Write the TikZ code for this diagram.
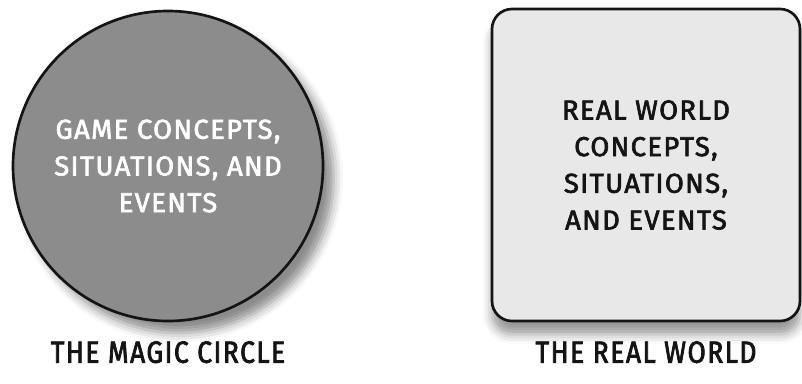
\documentclass[tikz,border=0pt]{standalone}
\usepackage{fontspec}
\setsansfont{Fira Sans}[FakeBold=2.4]
\newfontfamily\narrowsans{Fira Sans}[FakeStretch=0.86, FakeBold=2.4]
\usetikzlibrary{positioning,shadows.blur}
\usepackage{xcolor}
\definecolor{circlegray}{RGB}{140,140,140}
\definecolor{boxgray}{RGB}{232,232,232}
\definecolor{lineblack}{RGB}{20,20,20}

\begin{document}
\begin{tikzpicture}[
  x=0.75pt, y=-0.75pt,
  node distance=14pt and 0pt,
  world/.style={draw=lineblack, line width=2pt, align=center, inner sep=0pt,
    font=\sffamily\addfontfeature{LetterSpace=5}\fontsize{20.5}{27.5}\selectfont},
  caption/.style={font=\narrowsans\addfontfeature{LetterSpace=5}\fontsize{23}{26}\selectfont, text=lineblack, inner sep=0pt}
]
\useasboundingbox (0,0) rectangle (802,383);
\node[world, circle, fill=circlegray, text=white, minimum size=232.5pt,
  blur shadow={shadow xshift=8pt, shadow yshift=-9pt, shadow blur radius=7pt, shadow opacity=45}]
  (magic) at (168,166) {GAME CONCEPTS,\\SITUATIONS, AND\\EVENTS};
\node[world, rectangle, rounded corners=15pt, fill=boxgray, text=lineblack,
  minimum width=231pt, minimum height=234pt,
  blur shadow={shadow xshift=0pt, shadow yshift=-10pt, shadow blur radius=7pt, shadow opacity=40}]
  (real) at (646,165) {REAL WORLD\\CONCEPTS,\\SITUATIONS,\\AND EVENTS};

\node[caption, below=of magic] (magiclabel) {THE MAGIC CIRCLE};
\node[caption, below=of real] (reallabel) {THE REAL WORLD};
\end{tikzpicture}
\end{document}
